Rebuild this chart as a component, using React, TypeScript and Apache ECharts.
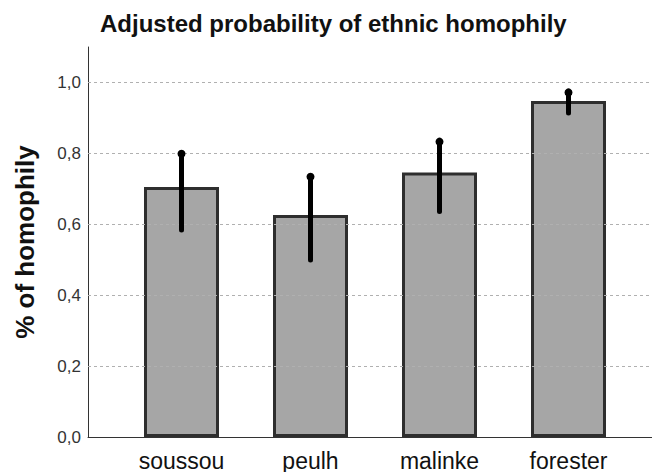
import React, { useEffect, useRef } from "react";
import * as echarts from "echarts";

const categories = ["soussou", "peulh", "malinke", "forester"];
const values = [0.705, 0.626, 0.746, 0.948];
const errLow = [0.584, 0.499, 0.636, 0.914];
const errHigh = [0.799, 0.734, 0.833, 0.972];
const gridValues = [0.2, 0.4, 0.6, 0.8, 1.0];

export default function App() {
  const ref = useRef<HTMLDivElement>(null);
  useEffect(() => {
    document.body.style.margin = "0";
    const chart = echarts.init(ref.current!, null, { renderer: "svg" });
    const font = "Liberation Sans, Arial, sans-serif";
    chart.setOption({
      animation: false,
      backgroundColor: "#ffffff",
      title: {
        text: "Adjusted probability of ethnic homophily",
        left: 95,
        top: 6,
        textStyle: { fontFamily: font, fontSize: 24, fontWeight: "bold", color: "#111" },
      },
      grid: [
        { left: 88, right: 0, top: 47, bottom: 35 },
        { left: 117, right: 19, top: 47, bottom: 35 },
      ],
      xAxis: [
        {
          gridIndex: 0,
          type: "value",
          min: 0,
          max: 1,
          axisLine: { show: true, onZero: false, lineStyle: { color: "#333", width: 1 } },
          axisTick: { show: false },
          axisLabel: { show: false },
          splitLine: { show: false },
        },
        {
          gridIndex: 1,
          type: "category",
          data: categories,
          axisLine: { show: false },
          axisTick: { show: false },
          axisLabel: { fontFamily: font, fontSize: 23, color: "#111", margin: 12 },
        },
      ],
      yAxis: [
        {
          gridIndex: 0,
          type: "value",
          min: 0,
          max: 1.1,
          interval: 0.2,
          name: "% of homophily",
          nameLocation: "middle",
          nameGap: 50,
          nameTextStyle: { fontFamily: font, fontSize: 26, fontWeight: "bold", color: "#111" },
          axisLine: { show: true, lineStyle: { color: "#333", width: 1 } },
          axisTick: { show: false },
          axisLabel: {
            fontFamily: font,
            fontSize: 17,
            color: "#333",
            margin: 7,
            showMaxLabel: false,
            formatter: (v: number) => v.toFixed(1).replace(".", ","),
          },
          splitLine: { show: false },
        },
        { gridIndex: 1, type: "value", min: 0, max: 1.1, show: false },
      ],
      series: [
        {
          type: "line",
          xAxisIndex: 0,
          yAxisIndex: 0,
          data: [[0, 0]],
          symbol: "none",
          lineStyle: { opacity: 0 },
          silent: true,
          markLine: {
            silent: true,
            symbol: "none",
            label: { show: false },
            lineStyle: { type: [3, 3], color: "#b0b0b0", width: 1 },
            data: gridValues.map((v) => ({ yAxis: v })),
          },
        },
        {
          type: "bar",
          xAxisIndex: 1,
          yAxisIndex: 1,
          data: values,
          barWidth: 75,
          itemStyle: { color: "#a6a6a6", borderColor: "#2e2e2e", borderWidth: 3 },
        },
        {
          type: "custom",
          xAxisIndex: 1,
          yAxisIndex: 1,
          data: categories.map((_, i) => [i, errLow[i], errHigh[i]]),
          renderItem: (params: any, api: any) => {
            const lo = api.coord([api.value(0), api.value(1)]);
            const hi = api.coord([api.value(0), api.value(2)]);
            return {
              type: "group",
              children: [
                {
                  type: "line",
                  shape: { x1: lo[0], y1: lo[1], x2: hi[0], y2: hi[1] },
                  style: { stroke: "#000", lineWidth: 5, lineCap: "round" },
                },
                {
                  type: "circle",
                  shape: { cx: hi[0], cy: hi[1], r: 4 },
                  style: { fill: "#000" },
                },
              ],
            };
          },
          z: 5,
        },
      ],
    });
    return () => chart.dispose();
  }, []);
  return <div ref={ref} style={{ width: 652, height: 472 }} />;
}
